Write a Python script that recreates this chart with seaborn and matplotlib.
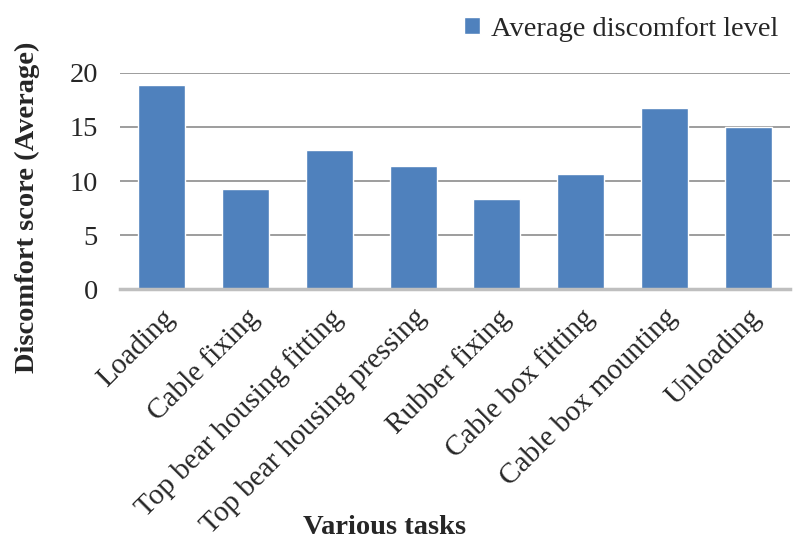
import pandas as pd
import matplotlib
matplotlib.use("Agg")
import matplotlib.pyplot as plt
import seaborn as sns

# data
tasks = [
    "Loading", "Cable fixing", "Top bear housing fitting",
    "Top bear housing pressing", "Rubber fixing", "Cable box fitting",
    "Cable box mounting", "Unloading",
]
discomfort = [18.9, 9.3, 12.85, 11.35, 8.35, 10.65, 16.7, 14.95]
series_name = "Average discomfort level"

df = pd.DataFrame({"task": tasks, "score": discomfort})

sns.set_theme(style="white")
plt.rcParams['font.family'] = ['Liberation Serif', 'DejaVu Serif']

fig = plt.figure(figsize=(7.93, 5.47), dpi=100)
ax = fig.add_axes([0.1513, 0.4711, 0.8449, 0.396])

sns.barplot(data=df, x="task", y="score", color="#4F81BD", width=0.56,
            saturation=1, ax=ax, label=series_name, zorder=3)

ax.set_ylim(0, 20)
ax.set_yticks([0, 5, 10, 15, 20])
ax.set_xlim(-0.5, len(tasks) - 0.5)
ax.yaxis.grid(True, color="#8c8c8c", linewidth=1.2, zorder=0)
for s in ["top", "right", "left"]:
    ax.spines[s].set_visible(False)
ax.spines["bottom"].set_color("#bfbfbf")
ax.spines["bottom"].set_linewidth(2.5)
ax.spines["bottom"].set_zorder(4)

fs = 20.5
ax.tick_params(axis="y", length=0, pad=16, labelsize=fs)
ax.tick_params(axis="x", length=0, pad=11, labelsize=21)
plt.setp(ax.get_xticklabels(), rotation=45, ha="right", rotation_mode="anchor")

ax.set_xlabel("Various tasks", fontsize=fs, fontweight="bold")
ax.set_ylabel("Discomfort score (Average)", fontsize=fs, fontweight="bold")
ax.xaxis.set_label_coords(0.395, -1.04)
ax.yaxis.set_label_coords(-0.12, 0.38)

leg = ax.legend(loc="upper right", bbox_to_anchor=(1.0, 1.31), frameon=False,
                fontsize=fs, handlelength=0.55, handleheight=0.55,
                handletextpad=0.4, borderaxespad=0)

fig.savefig("out.png", dpi=100)
